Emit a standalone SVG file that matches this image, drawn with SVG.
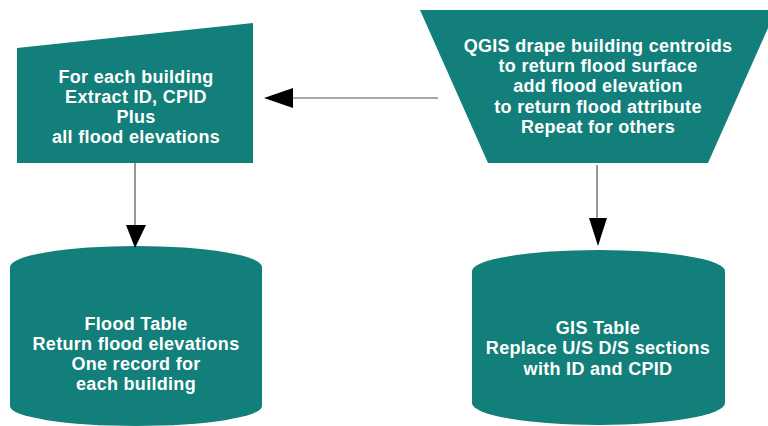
<svg xmlns="http://www.w3.org/2000/svg" width="768" height="426" viewBox="0 0 768 426">
<defs>
<style>
.shape{fill:#127f7a;}
.lbl{fill:#ffffff;font-family:"Liberation Sans",Arial,sans-serif;font-weight:bold;font-size:18px;letter-spacing:0.3px;text-anchor:middle;}
.conn{stroke:#555555;stroke-width:1.2;fill:none;}
.head{fill:#000000;}
</style>
</defs>
<rect width="768" height="426" fill="#ffffff"/>
<g id="extract">
<polygon class="shape" points="17,48 253,23 253,163 17,163"/>
<text class="lbl" x="136" y="83">For each building</text>
<text class="lbl" x="136" y="103">Extract ID, CPID</text>
<text class="lbl" x="136" y="123">Plus</text>
<text class="lbl" x="136" y="143">all flood elevations</text>
</g>
<g id="qgis">
<polygon class="shape" points="420,10 776,10 708,163 488,163"/>
<text class="lbl" x="598" y="52">QGIS drape building centroids</text>
<text class="lbl" x="598" y="72">to return flood surface</text>
<text class="lbl" x="598" y="92">add flood elevation</text>
<text class="lbl" x="598" y="113">to return flood attribute</text>
<text class="lbl" x="598" y="133">Repeat for others</text>
</g>
<g id="flood-table">
<path class="shape" d="M10,267 A126,21 0 0 1 262,267 L262,406 A126,20 0 0 1 10,406 Z"/>
<text class="lbl" x="136" y="330">Flood Table</text>
<text class="lbl" x="136" y="350">Return flood elevations</text>
<text class="lbl" x="136" y="370">One record for</text>
<text class="lbl" x="136" y="390">each building</text>
</g>
<g id="gis-table">
<path class="shape" d="M472,271 A126.5,21 0 0 1 725,271 L725,403 A126.5,22 0 0 1 472,403 Z"/>
<text class="lbl" x="598" y="334">GIS Table</text>
<text class="lbl" x="598" y="354">Replace U/S D/S sections</text>
<text class="lbl" x="598" y="375">with ID and CPID</text>
</g>
<g id="connectors">
<line class="conn" x1="438" y1="98" x2="290" y2="98"/>
<polygon class="head" points="264,98 293,88 293,108"/>
<line class="conn" x1="135" y1="163" x2="135" y2="227"/>
<polygon class="head" points="135,248 126,225 146,225"/>
<line class="conn" x1="597" y1="165" x2="597" y2="220"/>
<polygon class="head" points="598,246 589,218 607,218"/>
</g>
</svg>
